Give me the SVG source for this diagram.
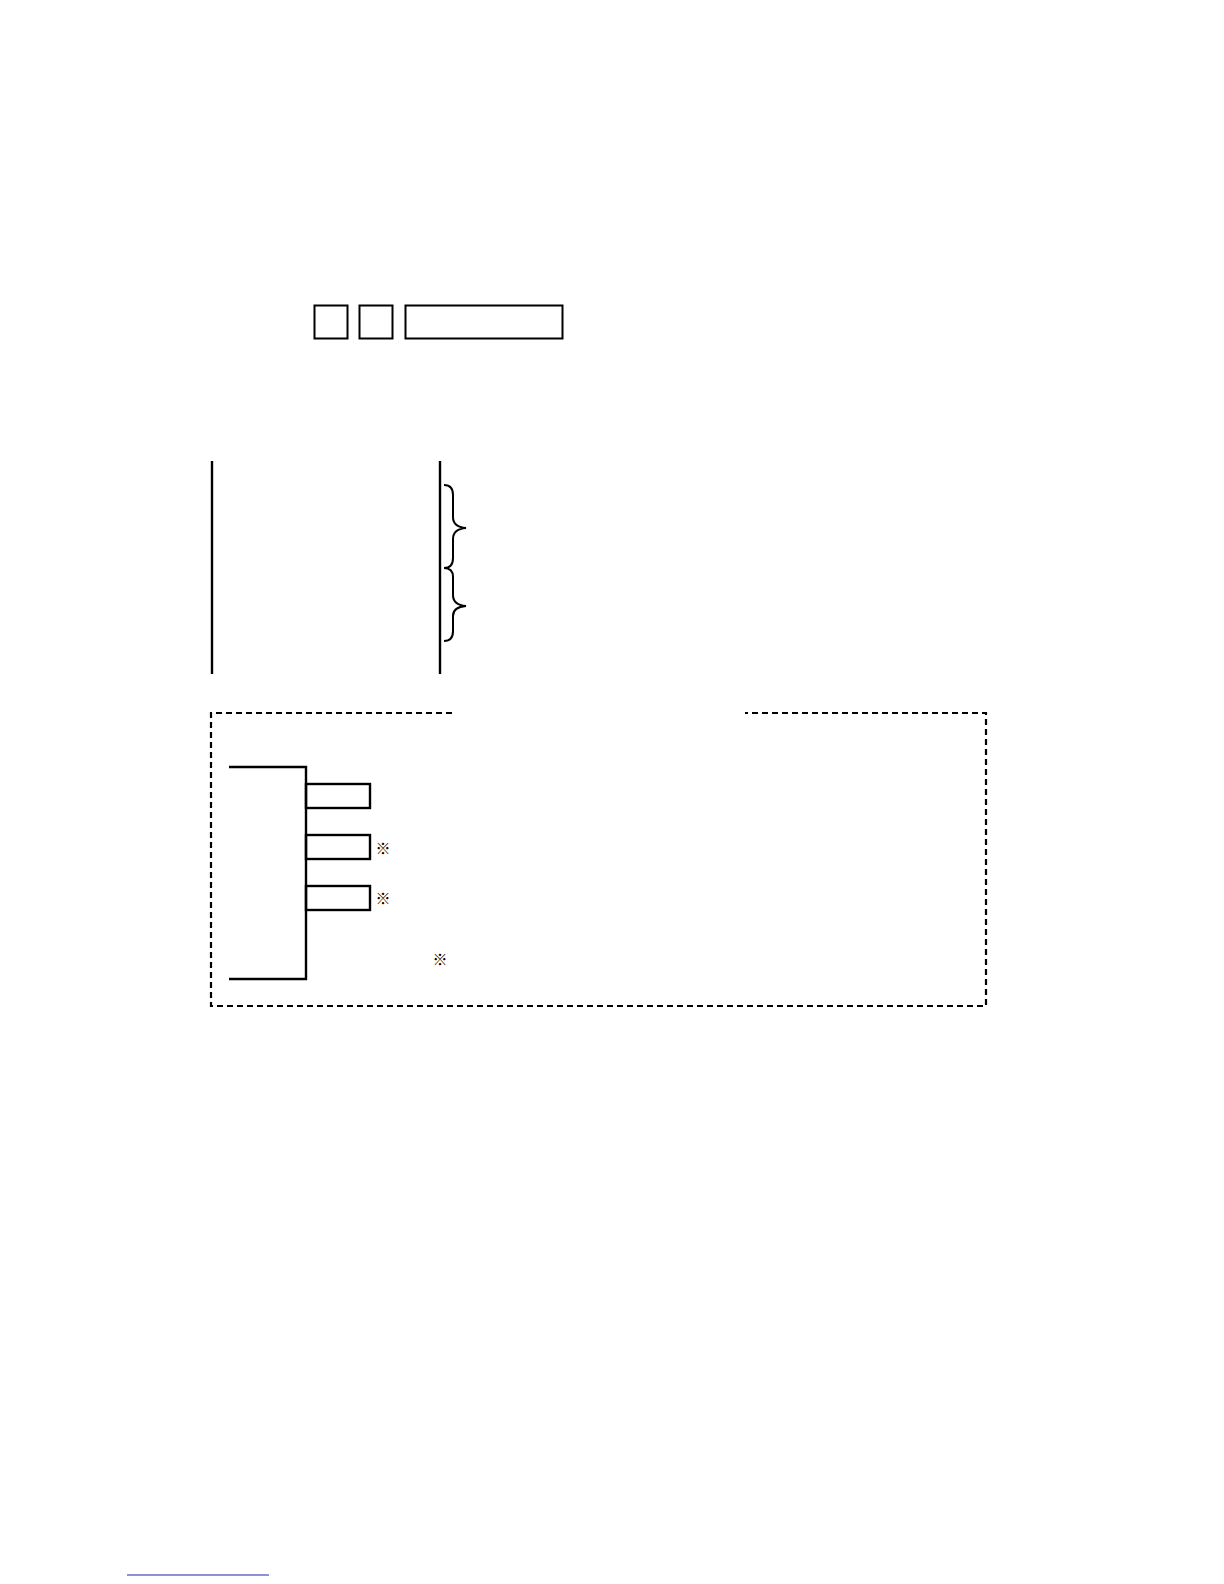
<svg xmlns="http://www.w3.org/2000/svg" width="1224" height="1584" viewBox="0 0 1224 1584">
<style>
.s{fill:none;stroke:#000;stroke-width:2}
.t{fill:none;stroke:#000;stroke-width:2.4}
.d{fill:none;stroke:#000;stroke-width:2.2;stroke-dasharray:6 4}
.k{font-family:"Noto Sans CJK JP","Liberation Sans",sans-serif;font-size:15px;fill:#000}
</style>
<rect width="1224" height="1584" fill="#fff"/>
<g id="box1"><rect class="s" x="314.5" y="305.5" width="33" height="33"/></g>
<g id="box2"><rect class="s" x="359.5" y="305.5" width="33" height="33"/></g>
<g id="box3"><rect class="s" x="405.5" y="305.5" width="157" height="33"/></g>
<g id="lines">
<line class="t" x1="212" y1="461" x2="212" y2="674"/>
<line class="t" x1="440" y1="461" x2="440" y2="674"/>
</g>
<g id="braces">
<path class="s" d="M444,485 Q453,485 453,495 L453,517 Q453,527 466,528 Q453,529 453,539 L453,558 Q453,568 444,568"/>
<path class="s" d="M444,568 Q453,568 453,577 L453,595 Q453,605 466,606 Q453,607 453,616 L453,631 Q453,641 444,641"/>
</g>
<g id="dashed-frame">
<path class="d" d="M452,713 L211,713 L211,1006 L986,1006 L986,713 L745,713"/>
</g>
<g id="connectors">
<polyline class="t" points="229,767 306,767 306,979 229,979"/>
</g>
<g id="item1"><rect class="t" x="306" y="784" width="64" height="24"/></g>
<g id="item2"><rect class="t" x="306" y="835" width="64" height="24"/><text class="k" x="375.5" y="853.5">※</text></g>
<g id="item3"><rect class="t" x="306" y="886" width="64" height="24"/><text class="k" x="375.5" y="903.5">※</text></g>
<g id="note"><text class="k" x="432.5" y="964.5">※</text></g>
<line x1="127" y1="1575" x2="269" y2="1575" stroke="#2020a8" stroke-width="1"/>
</svg>
